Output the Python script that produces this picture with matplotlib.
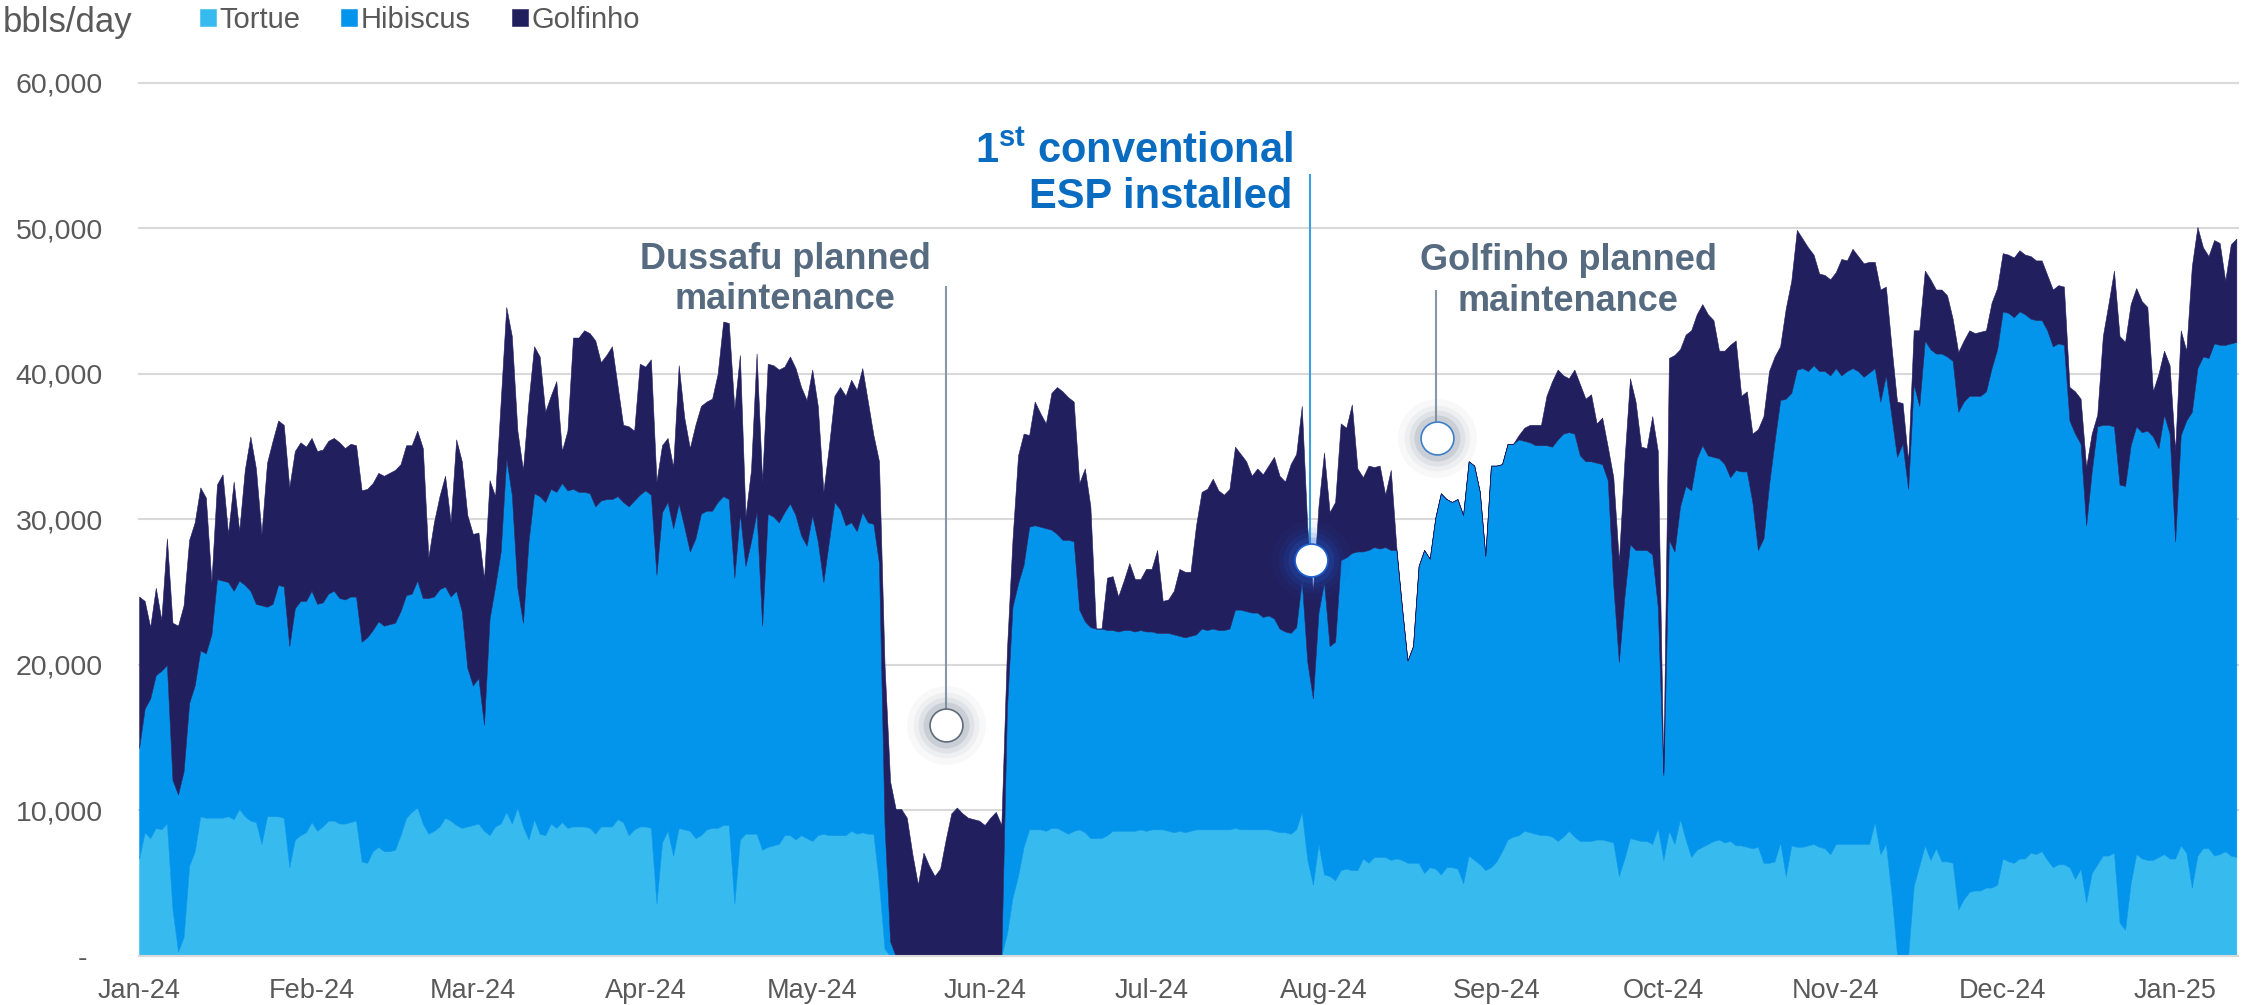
import numpy as np
import pandas as pd
import matplotlib
matplotlib.use('Agg')
import matplotlib.pyplot as plt
import matplotlib.dates as mdates
from matplotlib import font_manager

plt.rcParams['font.family'] = ['Liberation Sans', 'DejaVu Sans']
plt.rcParams['mathtext.fontset'] = 'custom'
plt.rcParams['mathtext.rm'] = 'Liberation Sans'
plt.rcParams['mathtext.bf'] = 'Liberation Sans:bold'

# daily production per field, thousand bbls/day, from 1 Jan 2024
tortue = [
    6.7, 8.5, 8.1, 8.8, 8.7, 9.1, 3.2, 0.3, 1.3, 6.2,
    7.2, 9.6, 9.5, 9.5, 9.5, 9.5, 9.6, 9.4, 10.1, 9.6,
    9.3, 9.2, 7.7, 9.6, 9.6, 9.6, 9.5, 6.1, 8.0, 8.3,
    8.5, 9.2, 8.6, 8.9, 9.3, 9.3, 9.1, 9.1, 9.2, 9.3,
    6.5, 6.4, 7.2, 7.5, 7.2, 7.2, 7.3, 8.3, 9.5, 9.9,
    10.2, 9.1, 8.4, 8.6, 8.9, 9.5, 9.3, 9.0, 8.8, 8.9,
    9.0, 9.1, 8.6, 8.3, 8.9, 9.1, 9.9, 9.1, 10.2, 8.9,
    8.0, 9.4, 8.4, 8.3, 9.1, 8.8, 9.2, 8.8, 8.9, 8.9,
    8.9, 8.8, 8.4, 8.9, 8.9, 8.9, 9.4, 9.2, 8.3, 8.7,
    8.9, 8.9, 8.8, 3.6, 7.8, 8.6, 6.9, 8.8, 8.7, 8.6,
    8.1, 8.3, 8.7, 8.8, 8.8, 9.0, 9.0, 3.6, 8.0, 8.4,
    8.4, 8.4, 7.3, 7.5, 7.6, 7.7, 8.3, 8.3, 8.0, 8.3,
    8.1, 7.9, 8.3, 8.4, 8.3, 8.3, 8.3, 8.3, 8.6, 8.4,
    8.5, 8.4, 8.4, 5.0, 0.5, 0, 0, 0, 0, 0,
    0, 0, 0, 0, 0, 0, 0, 0, 0, 0,
    0, 0, 0, 0, 0, 0, 1.5, 4.0, 5.5, 7.5,
    8.7, 8.7, 8.7, 8.6, 8.8, 8.8, 8.6, 8.4, 8.6, 8.7,
    8.5, 8.1, 8.1, 8.1, 8.3, 8.6, 8.6, 8.6, 8.6, 8.6,
    8.7, 8.6, 8.7, 8.7, 8.7, 8.6, 8.5, 8.6, 8.5, 8.6,
    8.7, 8.7, 8.7, 8.7, 8.7, 8.7, 8.7, 8.8, 8.7, 8.7,
    8.7, 8.7, 8.7, 8.7, 8.6, 8.5, 8.5, 8.4, 8.7, 9.9,
    6.6, 4.9, 7.7, 5.6, 5.5, 5.2, 5.9, 6.0, 5.9, 5.9,
    6.7, 6.4, 6.8, 6.8, 6.8, 6.6, 6.7, 6.6, 6.4, 6.4,
    6.4, 5.7, 6.1, 6.0, 5.6, 6.1, 6.1, 6.0, 5.0, 6.9,
    6.6, 6.3, 5.9, 6.1, 6.5, 7.2, 8.0, 8.2, 8.3, 8.6,
    8.5, 8.4, 8.3, 8.3, 8.2, 7.9, 8.2, 8.6, 8.2, 7.9,
    7.9, 7.9, 8.0, 8.0, 7.9, 7.8, 5.5, 6.7, 8.1, 8.0,
    7.9, 7.9, 7.7, 8.8, 6.6, 8.6, 7.7, 9.4, 8.0, 6.8,
    7.3, 7.5, 7.7, 7.9, 8.0, 7.8, 7.9, 7.6, 7.6, 7.5,
    7.4, 7.5, 6.4, 6.4, 6.5, 7.8, 5.5, 7.6, 7.5, 7.5,
    7.6, 7.7, 7.5, 7.4, 7.0, 7.7, 7.7, 7.7, 7.7, 7.7,
    7.7, 7.7, 9.2, 7.0, 7.7, 4.3, 0.1, 0.0, 0.0, 4.8,
    6.2, 7.6, 6.6, 7.4, 6.5, 6.5, 6.4, 3.2, 3.9, 4.4,
    4.5, 4.5, 4.7, 4.7, 4.9, 6.7, 6.5, 6.4, 6.7, 6.7,
    7.1, 7.0, 7.2, 6.6, 6.1, 6.3, 6.3, 6.1, 5.3, 6.0,
    3.7, 5.7, 6.3, 6.9, 6.9, 7.1, 2.3, 1.8, 5.0, 7.0,
    6.7, 6.6, 6.6, 6.8, 7.0, 6.7, 6.7, 7.6, 7.1, 4.7,
    6.9, 7.4, 7.4, 6.9, 7.0, 7.2, 6.9, 6.8,
]

hibiscus = [
    7.6, 8.5, 9.6, 10.5, 10.9, 10.9, 8.9, 10.8, 11.4, 11.2,
    11.4, 11.4, 11.3, 12.6, 16.4, 16.3, 16.1, 15.7, 15.7, 15.9,
    15.8, 15.0, 16.4, 14.4, 14.6, 15.9, 15.9, 15.2, 15.9, 16.1,
    15.9, 15.9, 15.6, 15.4, 15.6, 15.8, 15.5, 15.4, 15.5, 15.4,
    15.1, 15.5, 15.2, 15.5, 15.5, 15.6, 15.6, 15.4, 15.3, 15.0,
    15.6, 15.5, 16.2, 16.1, 16.3, 15.9, 15.4, 16.1, 14.9, 10.9,
    9.6, 10.0, 7.3, 14.9, 16.5, 18.7, 24.3, 22.6, 15.1, 14.0,
    20.5, 22.4, 23.2, 22.9, 23.0, 23.1, 23.3, 23.2, 23.2, 23.0,
    23.0, 23.0, 22.5, 22.4, 22.5, 22.5, 22.2, 22.0, 22.6, 22.6,
    22.8, 23.1, 22.9, 22.6, 22.7, 22.6, 22.5, 22.3, 20.8, 19.2,
    20.6, 22.1, 21.9, 21.8, 22.4, 22.6, 22.4, 22.4, 22.4, 18.4,
    20.1, 22.1, 15.4, 22.9, 22.6, 22.1, 22.2, 22.8, 22.3, 20.6,
    20.1, 22.4, 20.2, 17.3, 20.2, 22.9, 22.4, 21.3, 21.2, 20.8,
    22.0, 21.4, 21.3, 22.0, 8.5, 1.0, 0, 0, 0, 0,
    0, 0, 0, 0, 0, 0, 0, 0, 0, 0,
    0, 0, 0, 0, 0, 0, 15.5, 20.0, 20.1, 19.4,
    20.8, 20.9, 20.8, 20.8, 20.5, 20.2, 20.0, 20.2, 19.9, 15.1,
    14.5, 14.5, 14.4, 14.4, 14.1, 13.8, 13.7, 13.8, 13.8, 13.7,
    13.7, 13.7, 13.6, 13.5, 13.5, 13.6, 13.6, 13.4, 13.4, 13.4,
    13.4, 13.8, 13.7, 13.8, 13.7, 13.7, 13.8, 15.0, 15.1, 15.0,
    14.9, 14.9, 14.6, 14.7, 14.6, 14.0, 13.8, 13.8, 13.9, 15.9,
    13.6, 12.8, 15.9, 20.1, 15.8, 16.4, 21.3, 21.4, 21.8, 21.9,
    21.1, 21.5, 21.3, 21.2, 21.3, 21.3, 21.2, 17.4, 13.9, 14.9,
    20.4, 22.2, 21.2, 24.1, 26.2, 25.3, 25.1, 25.4, 25.3, 27.1,
    27.1, 25.6, 21.6, 27.6, 27.2, 26.6, 27.2, 27.0, 27.2, 26.8,
    26.8, 26.7, 26.8, 26.8, 26.8, 27.6, 27.7, 27.4, 27.7, 26.5,
    26.1, 26.1, 25.9, 25.8, 24.8, 17.7, 14.7, 18.0, 20.2, 19.9,
    20.0, 20.0, 19.9, 15.2, 5.8, 20.0, 20.1, 21.5, 24.3, 25.2,
    26.9, 27.6, 26.7, 26.4, 26.2, 26.0, 25.0, 25.8, 25.7, 25.8,
    23.8, 20.4, 22.3, 26.0, 28.9, 30.4, 32.8, 31.1, 32.8, 32.9,
    32.6, 32.9, 32.7, 32.8, 32.9, 32.7, 32.2, 32.5, 32.7, 32.5,
    32.1, 32.4, 31.2, 31.1, 32.2, 32.8, 34.2, 35.2, 32.1, 34.5,
    31.6, 34.7, 35.1, 34.0, 34.9, 34.7, 34.5, 34.2, 34.2, 34.1,
    34.0, 34.0, 34.1, 35.7, 36.8, 37.6, 37.7, 37.5, 37.6, 37.4,
    36.7, 36.7, 36.5, 36.4, 35.8, 35.8, 35.7, 30.7, 30.6, 29.2,
    25.9, 27.6, 30.1, 29.6, 29.6, 29.3, 30.1, 30.5, 30.1, 29.4,
    29.3, 29.5, 29.1, 28.1, 30.2, 29.2, 21.8, 28.2, 29.7, 32.7,
    33.5, 33.8, 33.7, 35.2, 35.0, 34.8, 35.2, 35.4,
]

golfinho = [
    10.4, 7.4, 4.9, 6.0, 3.5, 8.7, 10.8, 11.6, 11.4, 11.2,
    11.2, 11.2, 10.7, 3.6, 6.5, 7.3, 3.3, 7.5, 3.4, 7.9,
    10.6, 9.3, 4.9, 9.9, 11.2, 11.3, 11.1, 10.9, 10.8, 10.9,
    10.6, 10.5, 10.5, 10.5, 10.5, 10.5, 10.7, 10.4, 10.5, 10.4,
    10.4, 10.2, 10.1, 10.2, 10.3, 10.4, 10.5, 10.1, 10.3, 10.2,
    10.3, 10.3, 2.8, 5.1, 6.4, 7.6, 5.1, 10.4, 10.3, 10.5,
    10.4, 10.0, 10.0, 9.5, 6.2, 10.3, 10.4, 10.9, 10.8, 10.5,
    9.6, 10.1, 9.6, 6.2, 6.4, 7.6, 2.2, 4.1, 10.4, 10.6,
    11.1, 11.0, 11.4, 9.5, 9.9, 10.5, 7.6, 5.3, 5.5, 4.8,
    9.0, 8.5, 9.3, 6.4, 4.6, 4.4, 4.2, 9.5, 7.5, 7.1,
    7.8, 7.4, 7.5, 7.7, 8.8, 12.0, 12.1, 11.6, 10.9, 3.4,
    4.9, 10.9, 9.9, 10.3, 10.4, 10.5, 10.0, 10.1, 10.1, 10.2,
    10.0, 10.0, 9.3, 6.2, 6.5, 7.3, 8.4, 8.9, 9.8, 9.7,
    9.9, 8.3, 6.1, 7.0, 11.0, 11.0, 10.1, 10.1, 9.5, 7.0,
    4.9, 7.1, 6.2, 5.5, 6.0, 8.0, 9.8, 10.2, 9.8, 9.5,
    9.4, 9.3, 9.0, 9.5, 9.9, 9.0, 4.0, 4.6, 8.8, 9.0,
    6.3, 8.5, 7.8, 7.2, 9.4, 10.1, 10.2, 9.8, 9.6, 8.7,
    10.5, 8.3, 0.0, 0.0, 3.6, 3.7, 2.4, 3.4, 4.6, 3.6,
    3.5, 4.3, 4.3, 5.7, 2.2, 2.3, 3.0, 4.6, 4.5, 4.4,
    7.5, 9.4, 9.7, 10.3, 9.6, 9.3, 9.6, 11.2, 10.7, 10.3,
    9.4, 9.9, 9.8, 10.3, 11.1, 10.5, 10.3, 11.6, 11.9, 12.0,
    9.2, 7.4, 7.3, 8.9, 9.2, 9.6, 9.4, 8.9, 10.2, 5.7,
    5.1, 5.8, 5.5, 5.7, 3.6, 5.5, 0.2, 0, 0, 0,
    0, 0, 0, 0, 0, 0, 0, 0, 0, 0,
    0, 0, 0, 0, 0, 0, 0, 0, 0.3, 0.9,
    1.2, 1.4, 1.4, 3.4, 4.5, 4.8, 4.0, 3.7, 4.4, 4.9,
    4.3, 4.6, 2.7, 3.2, 2.3, 7.4, 6.9, 9.3, 11.4, 10.2,
    7.1, 7.0, 9.5, 10.7, 0.2, 12.5, 13.5, 10.8, 10.4, 11.0,
    9.9, 9.7, 9.7, 9.4, 7.4, 7.8, 9.1, 8.9, 5.2, 5.5,
    4.7, 8.3, 8.4, 7.8, 5.8, 3.7, 6.2, 7.7, 9.6, 8.9,
    8.5, 7.6, 6.7, 6.6, 6.6, 6.6, 8.0, 7.6, 8.2, 7.9,
    7.8, 7.6, 7.3, 7.7, 6.1, 4.8, 3.8, 2.8, 1.9, 3.7,
    5.2, 4.8, 4.8, 4.4, 4.4, 4.2, 2.9, 4.1, 4.2, 4.5,
    4.3, 4.4, 4.2, 4.5, 4.2, 4.0, 4.0, 4.1, 4.2, 4.1,
    4.3, 4.1, 4.1, 3.8, 3.9, 4.0, 4.0, 2.3, 2.9, 3.1,
    4.0, 2.6, 0.8, 6.1, 8.3, 10.7, 10.2, 9.9, 9.7, 9.5,
    9.0, 8.5, 3.1, 5.1, 4.4, 4.7, 6.2, 7.2, 4.8, 10.0,
    9.7, 7.5, 7.0, 7.1, 7.0, 4.4, 6.8, 7.1,
]

series_names = ['Tortue', 'Hibiscus', 'Golfinho']
start_date = '2024-01-01'
y_ticks = [0, 10000, 20000, 30000, 40000, 50000, 60000]
y_tick_labels = ['-  ', '10,000', '20,000', '30,000', '40,000', '50,000', '60,000']

# styling
colors = ['#37bbee', '#0394ec', '#221f5f']
text_grey = '#595959'
grid_grey = '#d9d9d9'
slate = '#566a80'
esp_blue = '#0a6cc0'

# legend and unit label use a condensed face when there is one
installed = {f.name for f in font_manager.fontManager.ttflist}
if 'Liberation Sans Narrow' in installed:
    top_family, legend_size, unit_size = 'Liberation Sans Narrow', 25, 29
else:
    top_family, legend_size, unit_size = 'Liberation Sans', 21, 25

dates = pd.date_range(start_date, periods=len(tortue), freq='D')
values = np.array([tortue, hibiscus, golfinho]) * 1000


def day(d):
    # position along the date axis, d days after the first date
    return dates[0] + pd.Timedelta(days=d)


fig = plt.figure(figsize=(22.47, 10.05), dpi=100)
ax = fig.add_axes([0.0619, 0.0488, 0.9341, 0.8687])

polys = ax.stackplot(dates, values, colors=colors, labels=series_names,
                     linewidth=0.4, edgecolor='face', zorder=2)

# axes look
ax.set_xlim(day(0), day(377.3))
ax.set_ylim(0, 60000)
ax.set_yticks(y_ticks)
ax.set_yticklabels(y_tick_labels)
ax.yaxis.grid(True, color=grid_grey, linewidth=1.5)
for gl in ax.get_ygridlines():
    gl.set_clip_on(False)
ax.set_axisbelow(True)
for side in ['left', 'right', 'top']:
    ax.spines[side].set_visible(False)
ax.spines['bottom'].set_color(grid_grey)
ax.spines['bottom'].set_linewidth(1.5)

ax.xaxis.set_major_locator(mdates.MonthLocator())
ax.xaxis.set_major_formatter(mdates.DateFormatter('%b-%y'))
ax.tick_params(axis='x', length=0, pad=16, labelsize=19.5, labelcolor=text_grey)
ax.tick_params(axis='y', length=0, pad=26, labelsize=20.5, labelcolor=text_grey)


def glow_marker(x, y, glow_color, edge_color):
    base = 560
    for k, a in [(2.4, 0.05), (2.0, 0.08), (1.7, 0.12), (1.4, 0.2)]:
        ax.scatter([x], [y], s=base * k * k, color=glow_color, alpha=a,
                   linewidths=0, zorder=6, clip_on=False)
    ax.scatter([x], [y], s=base, color='white', edgecolors=edge_color,
               linewidths=1.2, zorder=7, clip_on=False)


# annotations
ax.text(day(116.1), 46500, 'Dussafu planned\nmaintenance', ha='center', va='center',
        fontsize=26, fontweight='bold', color=slate, linespacing=1.2, zorder=8)
ax.plot([day(145.1), day(145.1)], [46000, 17000], color='#8796a8', lw=1.5, zorder=5)
glow_marker(day(145.1), 15900, '#7a8798', '#5f6b7a')

ax.text(day(207.4), 53700, r'$\mathbf{1^{st}}$ conventional' + '\nESP installed',
        ha='right', va='center', fontsize=30, fontweight='bold', color=esp_blue,
        linespacing=1.15, zorder=8)
ax.plot([day(210.5), day(210.5)], [53700, 27200], color='#3ba0e0', lw=1.5, zorder=5)
glow_marker(day(210.6), 27200, '#1f5fd0', '#1f5fd0')

ax.text(day(256.9), 46400, 'Golfinho planned\nmaintenance', ha='center', va='center',
        fontsize=26, fontweight='bold', color=slate, linespacing=1.2, zorder=8)
ax.plot([day(233.2), day(233.2)], [45700, 36600], color='#8796a8', lw=1.5, zorder=5)
glow_marker(day(233.3), 35600, '#7a8798', '#3c7fc8')

# unit label and legend across the top
fig.text(0.001, 1 - 32 / 1005, 'bbls/day', fontsize=unit_size, color=text_grey,
         family=[top_family, 'DejaVu Sans'], ha='left', va='baseline')
fig.legend(polys, series_names, loc='center left',
           bbox_to_anchor=(200 / 2247, 1 - 20 / 1005), ncol=3, frameon=False,
           prop={'family': [top_family, 'DejaVu Sans'], 'size': legend_size},
           handlelength=0.55, handleheight=0.55, handletextpad=0.12,
           columnspacing=1.4, borderpad=0, borderaxespad=0, labelcolor=text_grey)

fig.savefig('out.png', dpi=100)
